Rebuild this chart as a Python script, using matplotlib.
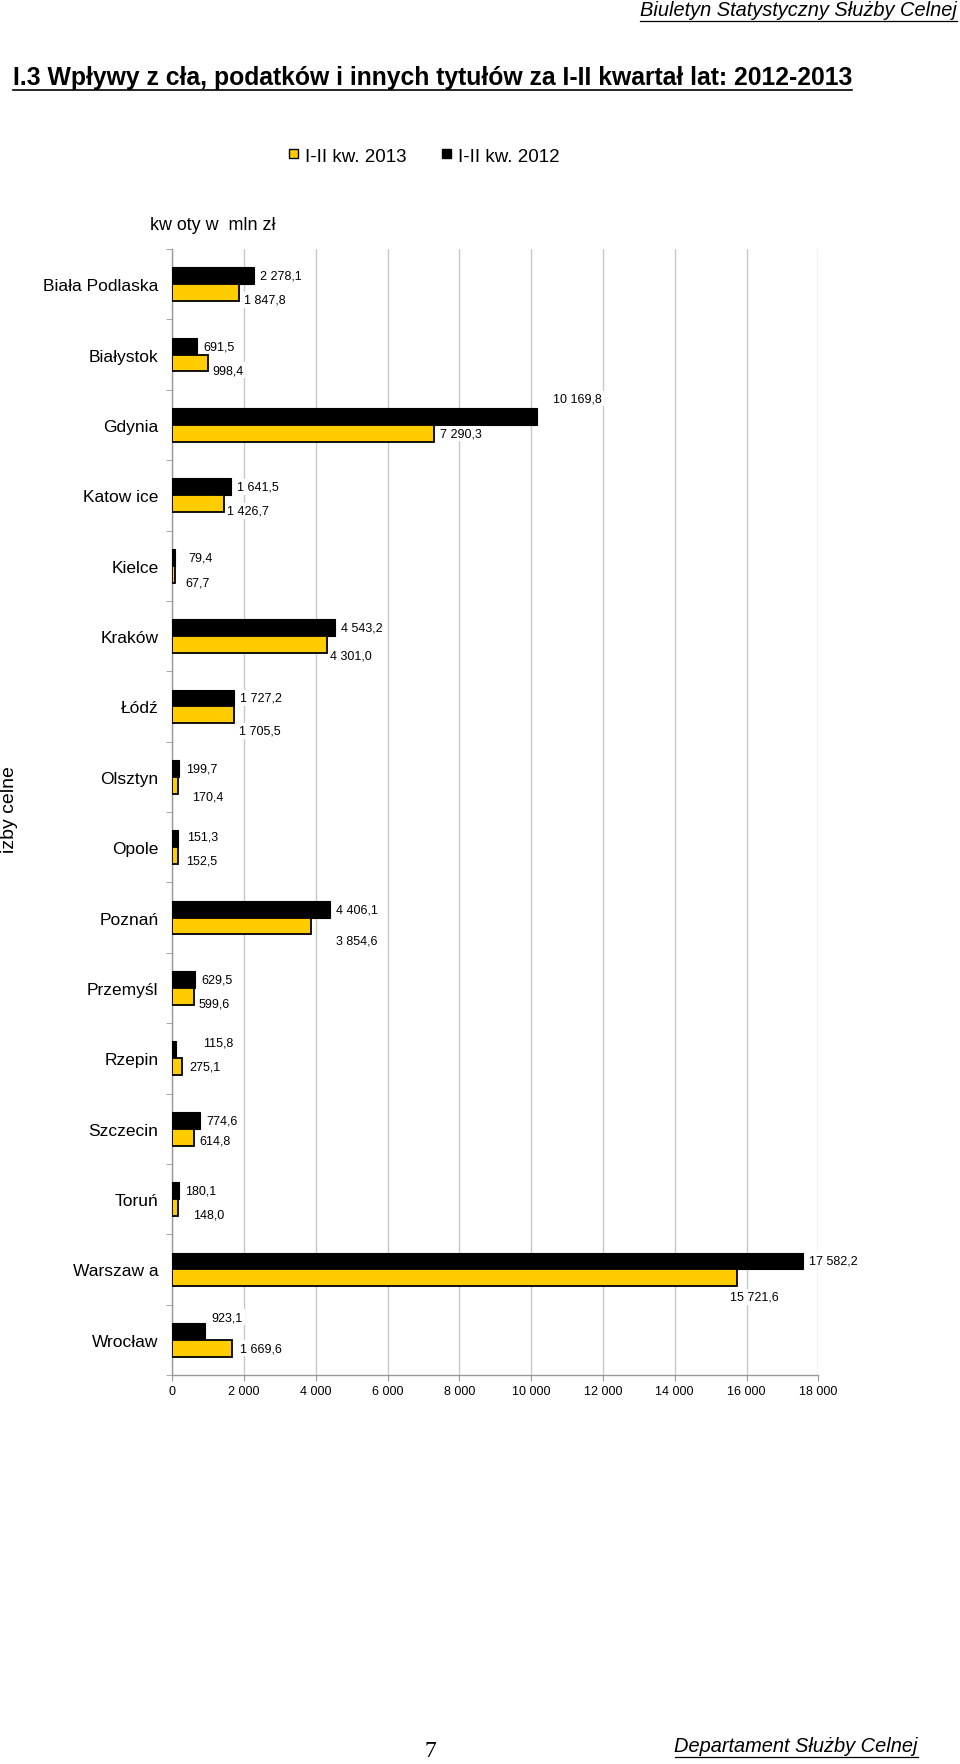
import matplotlib
matplotlib.use("Agg")
import matplotlib.pyplot as plt
from matplotlib.patches import Patch
from matplotlib.lines import Line2D

plt.rcParams['font.family'] = ['Liberation Sans', 'DejaVu Sans']

# dane (mln zł)
izby = ["Biała Podlaska", "Białystok", "Gdynia", "Katow ice", "Kielce", "Kraków",
        "Łódź", "Olsztyn", "Opole", "Poznań", "Przemyśl", "Rzepin", "Szczecin",
        "Toruń", "Warszaw a", "Wrocław"]
kw_2013 = [1847.8, 998.4, 7290.3, 1426.7, 67.7, 4301.0, 1705.5, 170.4, 152.5,
           3854.6, 599.6, 275.1, 614.8, 148.0, 15721.6, 1669.6]
kw_2012 = [2278.1, 691.5, 10169.8, 1641.5, 79.4, 4543.2, 1727.2, 199.7, 151.3,
           4406.1, 629.5, 115.8, 774.6, 180.1, 17582.2, 923.1]
x_ticks = [0, 2000, 4000, 6000, 8000, 10000, 12000, 14000, 16000, 18000]

YELLOW = "#FFCC00"

# przesunięcia etykiet (piksele) tam, gdzie Excel je przestawił
nudge_2012 = {2: (16, -18), 3: (6, 0), 4: (13, 0), 7: (7, 0), 8: (9, -2),
              11: (27, -7), 15: (6, -14)}
nudge_2013 = {0: (5, 7), 1: (4, 7), 2: (6, 0), 3: (3, 7), 4: (11, 8), 5: (3, 11),
              6: (5, 16), 7: (14, 11), 8: (8, 5), 9: (25, 14), 10: (5, 7),
              11: (7, 0), 12: (5, 3), 13: (15, 7), 14: (-7, 19), 15: (8, 0)}


def fmt(v):
    return f"{v:,.1f}".replace(",", " ").replace(".", ",")


W, H = 960, 1765
fig = plt.figure(figsize=(W / 100, H / 100), dpi=100)
ax = fig.add_axes([172.3 / W, 1 - 1376 / H, 646 / W, 1126 / H])

pos = list(range(len(izby)))
h = 0.24
ax.barh([p - h / 2 for p in pos], kw_2012, height=h, color="black",
        edgecolor="black", linewidth=0.8, zorder=3)
ax.barh([p + h / 2 for p in pos], kw_2013, height=h, color=YELLOW,
        edgecolor="black", linewidth=1.3, zorder=3)

box = dict(boxstyle="square,pad=0.15", facecolor="white", edgecolor="none")
for i in pos:
    dx, dy = nudge_2012.get(i, (6, 0))
    ax.annotate(fmt(kw_2012[i]), (kw_2012[i], i - h / 2), xytext=(dx, -dy),
                textcoords="offset pixels", ha="left", va="center",
                fontsize=9, bbox=box, zorder=4)
    dx, dy = nudge_2013[i]
    ax.annotate(fmt(kw_2013[i]), (kw_2013[i], i + h / 2), xytext=(dx, -dy),
                textcoords="offset pixels", ha="left", va="center",
                fontsize=9, bbox=box, zorder=4)

ax.set_xlim(0, 18000)
ax.set_ylim(len(izby) - 0.5, -0.5)
ax.set_xticks(x_ticks)
ax.set_xticklabels([f"{t:,}".replace(",", " ") for t in x_ticks], fontsize=9)
ax.set_yticks(pos)
ax.set_yticklabels(izby, fontsize=12.5)
ax.set_yticks([p + 0.5 for p in [-1] + pos], minor=True)
ax.tick_params(axis="y", which="major", length=0, pad=10)
ax.tick_params(axis="y", which="minor", length=4, color="#999999", direction="out")
ax.tick_params(axis="x", length=4, color="#999999", pad=3)
ax.grid(axis="x", color="#c8c8c8", linewidth=1, zorder=0)
ax.set_axisbelow(True)
for s in ["top", "right"]:
    ax.spines[s].set_visible(False)
for s in ["left", "bottom"]:
    ax.spines[s].set_color("#999999")
    ax.spines[s].set_linewidth(1)

fig.text(9 / W, 1 - 810 / H, "izby celne", rotation=90, ha="center",
         va="center", fontsize=14)
fig.text(150 / W, 1 - 226 / H, "kw oty w  mln zł", ha="left", va="center",
         fontsize=12.9)

handles = [Patch(facecolor=YELLOW, edgecolor="black", linewidth=1.0),
           Patch(facecolor="black", edgecolor="black")]
fig.legend(handles, ["I-II kw. 2013", "I-II kw. 2012"], ncol=2, frameon=False,
           loc="center", bbox_to_anchor=(424 / W, 1 - 157 / H),
           prop={"size": 13.5}, handlelength=0.5, handleheight=0.38,
           handletextpad=0.35, columnspacing=1.9)

# nagłówek, tytuł i stopka (podkreślone)
underlined = [
    fig.text(957 / W, 1 - 11 / H, "Biuletyn Statystyczny Służby Celnej",
             ha="right", va="center", fontsize=14.4, style="italic"),
    fig.text(13 / W, 1 - 78 / H,
             "I.3 Wpływy z cła, podatków i innych tytułów za I-II kwartał lat: 2012-2013",
             ha="left", va="center", fontsize=17.8, weight="bold"),
    fig.text(918 / W, 1 - 1747 / H, "Departament Służby Celnej",
             ha="right", va="center", fontsize=14.4, style="italic"),
]
fig.text(430 / W, 1 - 1752 / H, "7", ha="center", va="center", fontsize=17,
         family=["Liberation Serif", "DejaVu Serif"])

fig.canvas.draw()
r = fig.canvas.get_renderer()
for t in underlined:
    bb = t.get_window_extent(r)
    y = (bb.y0 - 1) / H
    fig.add_artist(Line2D([bb.x0 / W, bb.x1 / W], [y, y], color="black",
                          linewidth=1.2 if t.get_weight() == "bold" else 0.9))

fig.savefig("out.png", dpi=100)
